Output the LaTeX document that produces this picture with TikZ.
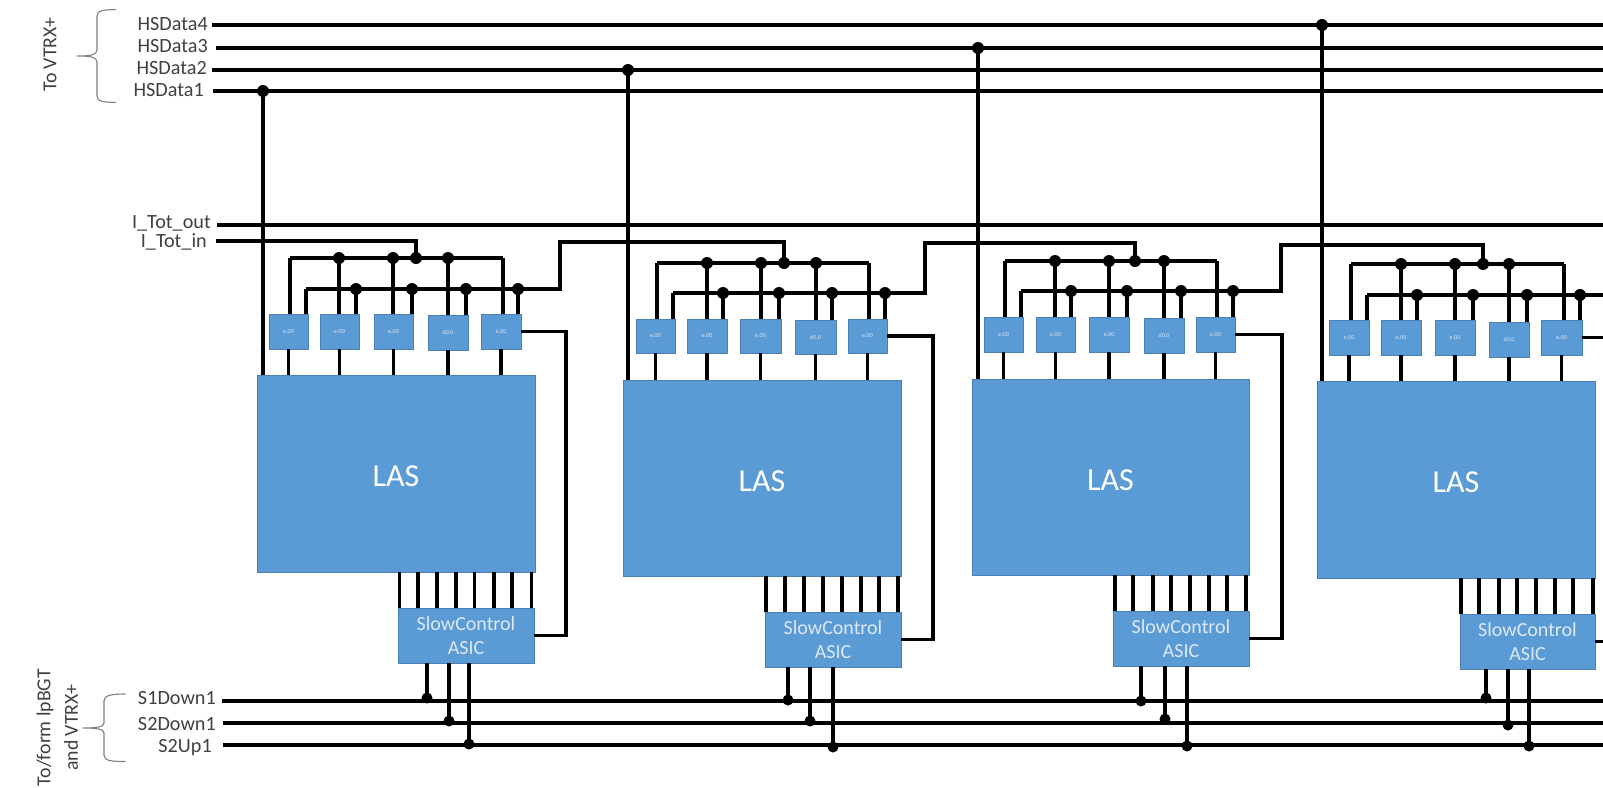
\documentclass[tikz,border=0pt]{standalone}
\usepackage{fontspec}
\setmainfont{Carlito}
\definecolor{blk}{HTML}{5B9BD5}
\definecolor{blkedge}{HTML}{4A80B4}
\definecolor{lbl}{HTML}{404040}
\definecolor{brc}{HTML}{7F7F7F}
\definecolor{soft}{HTML}{DCE8F5}
\tikzset{
  wire/.style={draw=black,line width=3.5pt},
  jn/.style={circle,fill=black,inner sep=0pt,minimum size=12pt},
  block/.style={rectangle,fill=blk,draw=blkedge,line width=1pt,inner sep=0pt,outer sep=0pt},
  lastext/.style={text=white,font=\fontsize{32}{38}\selectfont,text height=26pt,text depth=0pt},
  asictext/.style={text=soft,align=center,font=\fontsize{20}{24}\selectfont},
  tinytext/.style={text=soft,font=\fontsize{6}{7}\selectfont},
  lab/.style={text=lbl,anchor=base east,inner sep=0pt,font=\fontsize{20.2}{23}\selectfont},
  vlab/.style={text=lbl,rotate=90,inner sep=0pt,font=\fontsize{19.8}{23}\selectfont},
  brace/.style={draw=brc,line width=1.1pt}
}
% rectangle node given by its corners: style, name, x1, x2, y1, y2, text
\newcommand\rectnode[7]{%
  \node[block,#1,minimum width={(#4-#3)*1pt},minimum height={(#6-#5)*1pt}] (#2)
    at ({(#3+#4)/2},{(#5+#6)/2}) {#7};}
% upper part: module, upper bus y, lower bus y, feed x, box list
\newcommand\TopPart[5]{%
  \coordinate (J#1) at (#4,#2);
  \foreach \k/\xa/\xb/\ya/\yb/\txt/\ux/\vx in {#5} {
    \rectnode{tinytext}{B#1\k}{\xa}{\xb}{\ya}{\yb}{\txt}
    \coordinate (U#1\k) at (\ux,#2);
    \coordinate (V#1\k) at (\vx,#3);
    \draw[wire] (U#1\k) -- (U#1\k |- B#1\k.north);
    \draw[wire] (V#1\k) -- (V#1\k |- B#1\k.north);
    \draw[wire] (B#1\k.south) -- (B#1\k.south |- L#1.north);
  }
  \draw[wire,line cap=square] (U#1a) -- (U#1e);
  \draw[wire,line cap=square] (V#1a) -- (V#1e);
  \foreach \k in {b,c,d} {\node[jn] (DU#1\k) at (U#1\k) {};}
  \foreach \k in {b,c,d,e} {\node[jn] (DV#1\k) at (V#1\k) {};}
  \node[jn] (DJ#1) at (J#1) {};
}
% lower part: module, list of 8 link x, list of bus taps
\newcommand\BottomPart[3]{%
  \foreach \n/\lx in {#2} {
    \coordinate (T#1\n) at (\lx,500);
    \draw[wire] (T#1\n |- L#1.south) -- (T#1\n |- S#1.north);
  }
  \foreach \q/\qx/\qy in {#3} {
    \node[jn,minimum size=11pt] (E#1\q) at (\qx,\qy) {};
    \draw[wire] (E#1\q.center) -- (E#1\q |- S#1.south);
  }
}
\begin{document}
\begin{tikzpicture}[x=1pt,y=-1pt]
\useasboundingbox (0,0) rectangle (1603,787);
\fill[white] (0,0) rectangle (1603,787);

% bus end points
\coordinate (hs4a) at (212,25);   \coordinate (hs4b) at (1603,25);
\coordinate (hs3a) at (216,48);   \coordinate (hs3b) at (1603,48);
\coordinate (hs2a) at (212,70);   \coordinate (hs2b) at (1603,70);
\coordinate (hs1a) at (213,91);   \coordinate (hs1b) at (1603,91);
\coordinate (toa) at (217,225);   \coordinate (tob) at (1603,225);
\coordinate (tia) at (216,241);
\coordinate (sd1a) at (222,701);  \coordinate (sd1b) at (1603,701);
\coordinate (sd2a) at (223,723);  \coordinate (sd2b) at (1603,723);
\coordinate (su1a) at (223,745);  \coordinate (su1b) at (1603,745);

% labels
\node[lab] (nhs4) at (208,30) {HSData4};
\node[lab] (nhs3) at (208,52) {HSData3};
\node[lab] (nhs2) at (207,74) {HSData2};
\node[lab] (nhs1) at (204,96) {HSData1};
\node[lab] (nto) at (211,228) {I\_Tot\_out};
\node[lab] (nti) at (207,247.5) {I\_Tot\_in};
\node[lab] (nsd1) at (216,704.5) {S1Down1};
\node[lab] (nsd2) at (216,730.5) {S2Down1};
\node[lab] (nsu1) at (212,752) {S2Up1};
\node[vlab] (nvtrx) at (50,54.5) {To VTRX+};
\node[vlab] (nfrom) at (45,727.5) {To/form lpBGT};
\node[vlab] (nand) at (71,727.5) {and VTRX+};

% braces
\draw[brace] (116,9.5) .. controls (104,10) and (97,10) .. (97,16) -- (97,50)
  .. controls (97,55) and (90,56) .. (77,56) .. controls (90,56) and (97,57) .. (97,62)
  -- (97,96) .. controls (97,102) and (104,102) .. (116,102.5);
\draw[brace] (125.5,694) .. controls (112,694) and (104,695) .. (104,701) -- (104,723)
  .. controls (104,727) and (96,728) .. (83,728) .. controls (96,728) and (104,729) .. (104,733)
  -- (104,755) .. controls (104,761) and (112,761.5) .. (125.5,761.5);

% large blocks
\rectnode{lastext}{L1}{257}{535}{375}{572}{LAS}
\rectnode{lastext}{L2}{623}{901}{380}{576}{LAS}
\rectnode{lastext}{L3}{972}{1249}{379}{575}{LAS}
\rectnode{lastext}{L4}{1317}{1595}{381}{578}{LAS}
\rectnode{asictext}{S1}{398}{534}{608}{663}{SlowControl\\ASIC}
\rectnode{asictext}{S2}{765}{901}{612}{667}{SlowControl\\ASIC}
\rectnode{asictext}{S3}{1113}{1249}{611}{666}{SlowControl\\ASIC}
\rectnode{asictext}{S4}{1460}{1595}{614}{669}{SlowControl\\ASIC}

% buses
\draw[wire] (hs4a) -- (hs4b);
\draw[wire] (hs3a) -- (hs3b);
\draw[wire] (hs2a) -- (hs2b);
\draw[wire] (hs1a) -- (hs1b);
\draw[wire] (toa) -- (tob);
\draw[wire] (sd1a) -- (sd1b);
\draw[wire] (sd2a) -- (sd2b);
\draw[wire] (su1a) -- (su1b);

% HSData taps
\node[jn] (h1) at (263,91) {};
\node[jn] (h2) at (628,70) {};
\node[jn] (h3) at (978,48) {};
\node[jn] (h4) at (1322,25) {};
\draw[wire] (h1.center) -- (h1 |- L1.north);
\draw[wire] (h2.center) -- (h2 |- L2.north);
\draw[wire] (h3.center) -- (h3 |- L3.north);
\draw[wire] (h4.center) -- (h4 |- L4.north);

% small blocks and their buses
\TopPart{1}{258}{289}{416}{a/269/308/314/349/e.00/290/306,b/320/359/314/349/e.00/339/356,c/374/413/314/349/e.00/393/412,d/428/468/315/350/d0.0/448/466,e/481/521/314/349/e.00/503/518}
\TopPart{2}{263}{293}{784}{a/636/675/319/353/e.00/657/673,b/687/727/319/353/e.00/707/723,c/740/781/319/353/e.00/761/779,d/795/836/320/354/d0.0/816/832,e/848/887/319/353/e.00/869/885}
\TopPart{3}{261}{291}{1135}{a/984/1023/317/352/e.00/1005/1021,b/1036/1075/317/352/e.00/1055/1071,c/1089/1129/317/352/e.00/1109/1127,d/1144/1184/318/353/d0.0/1164/1181,e/1196/1235/317/352/e.00/1217/1233}
\TopPart{4}{264}{295}{1483}{a/1329/1369/320/355/e.00/1351/1367,b/1381/1421/320/355/e.00/1401/1417,c/1435/1475/320/355/e.00/1455/1473,d/1489/1529/322/357/d0.0/1509/1527,e/1541/1582/320/355/e.00/1564/1580}

% I_Tot chain
\coordinate (K1) at (560,242);
\coordinate (K2) at (925,243);
\coordinate (K3) at (1281,245);
\coordinate (K4) at (1603,295);
\draw[wire] (tia) -| (J1);
\draw[wire] (V1e) -| (K1) -| (J2);
\draw[wire] (V2e) -| (K2) -| (J3);
\draw[wire] (V3e) -| (K3) -| (J4);
\draw[wire] (V4e) -- (K4);

% lower links
\BottomPart{1}{1/399.5,2/418,3/437,4/456,5/474.5,6/494,7/512,8/531.5}{a/427/698,b/449/721,c/469/744}
\BottomPart{2}{1/766,2/785,3/804,4/823,5/842,6/861,7/879,8/898}{a/788/700,b/810/721,c/833/747}
\BottomPart{3}{1/1115,2/1133,3/1153,4/1171,5/1190,6/1209,7/1227,8/1246}{a/1141/701,b/1165/719,c/1187/746}
\BottomPart{4}{1/1461,2/1479,3/1499,4/1517,5/1536,6/1555,7/1573,8/1593}{a/1486/698,b/1508/725,c/1529/746}

% return loops
\coordinate (W1) at (566,480);
\coordinate (W2) at (933,480);
\coordinate (W3) at (1282,480);
\coordinate (X4a) at (1603,337.5);
\coordinate (X4b) at (1603,641.5);
\draw[wire] (B1e.east) -| (W1) |- (S1.east);
\draw[wire] (B2e.east) -| (W2) |- (S2.east);
\draw[wire] (B3e.east) -| (W3) |- (S3.east);
\draw[wire] (B4e.east) -- (X4a);
\draw[wire] (S4.east) -- (X4b);
\end{tikzpicture}
\end{document}
